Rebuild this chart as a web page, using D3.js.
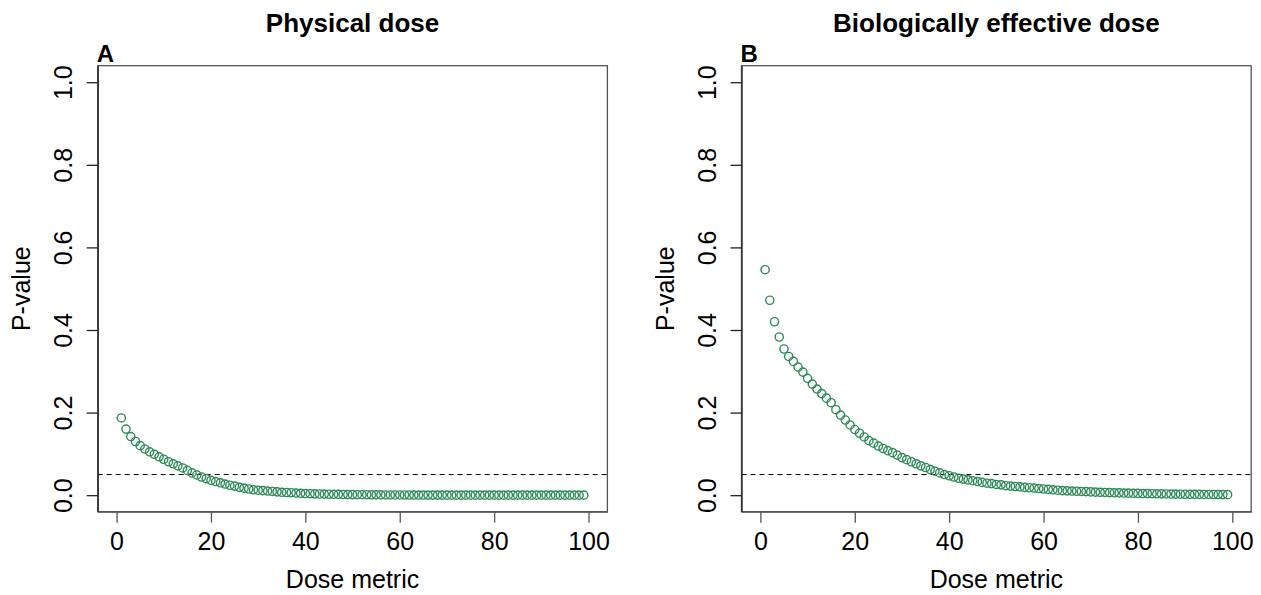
<!DOCTYPE html>
<html>
<head>
<meta charset="utf-8">
<script src="https://cdn.jsdelivr.net/npm/d3@7"></script>
<style>
  body { margin: 0; background: #fff; }
  svg { display: block; font-family: "Liberation Sans", Arial, sans-serif; }
  .tick-label { font-size: 25px; fill: #000; }
  .axis-title { font-size: 25px; fill: #000; }
  .panel-title { font-size: 26px; font-weight: bold; fill: #000; }
  .panel-tag { font-size: 24px; font-weight: bold; fill: #000; }
</style>
</head>
<body>
<div id="chart"></div>
<script>
// Dose metric values (x)
const doseMetric = [1, 2, 3, 4, 5, 6, 7, 8, 9, 10, 11, 12, 13, 14, 15, 16, 17, 18, 19, 20,
  21, 22, 23, 24, 25, 26, 27, 28, 29, 30, 31, 32, 33, 34, 35, 36, 37, 38, 39, 40,
  41, 42, 43, 44, 45, 46, 47, 48, 49, 50, 51, 52, 53, 54, 55, 56, 57, 58, 59, 60,
  61, 62, 63, 64, 65, 66, 67, 68, 69, 70, 71, 72, 73, 74, 75, 76, 77, 78, 79, 80,
  81, 82, 83, 84, 85, 86, 87, 88, 89, 90, 91, 92, 93, 94, 95, 96, 97, 98, 99];

// P-values, physical dose (panel A)
const pPhysical = [0.187, 0.160, 0.142, 0.130, 0.120, 0.112, 0.105, 0.099, 0.093, 0.087,
  0.081, 0.076, 0.071, 0.066, 0.060, 0.054, 0.049, 0.044, 0.040, 0.036,
  0.033, 0.030, 0.027, 0.024, 0.022, 0.019, 0.017, 0.015, 0.013, 0.012,
  0.011, 0.010, 0.009, 0.008, 0.007, 0.0065, 0.006, 0.0052, 0.0046, 0.004,
  0.0036, 0.0032, 0.0029, 0.0026, 0.0023, 0.0021, 0.0019, 0.0017, 0.0015, 0.0013,
  0.0012, 0.0011, 0.001, 0.0009, 0.0008, 0.0007, 0.0006, 0.0006, 0.0005, 0.0005,
  0.0004, 0.0004, 0.0003, 0.0003, 0.0003, 0.0002, 0.0002, 0.0002, 0.0002, 0.0001,
  0.0001, 0.0001, 0.0001, 0.0001, 0.0001, 0.0001, 0.0001, 0.0001, 0.0001, 0.0001,
  0.0001, 0.0001, 0.0001, 0.0001, 0.0001, 0.0001, 0.0001, 0.0001, 0.0001, 0.0001,
  0.0001, 0.0001, 0.0001, 0.0001, 0.0001, 0.0001, 0.0001, 0.0001, 0.0001];

// P-values, biologically effective dose (panel B)
const pBiological = [0.546, 0.472, 0.420, 0.383, 0.354, 0.336, 0.324, 0.310, 0.298, 0.283,
  0.269, 0.257, 0.246, 0.235, 0.224, 0.207, 0.194, 0.182, 0.170, 0.159,
  0.150, 0.141, 0.132, 0.126, 0.119, 0.113, 0.108, 0.103, 0.097, 0.091,
  0.086, 0.081, 0.076, 0.071, 0.067, 0.062, 0.058, 0.054, 0.050, 0.047,
  0.044, 0.041, 0.039, 0.037, 0.035, 0.033, 0.031, 0.029, 0.028, 0.026,
  0.025, 0.023, 0.022, 0.021, 0.020, 0.019, 0.018, 0.017, 0.016, 0.015,
  0.014, 0.013, 0.012, 0.011, 0.0105, 0.010, 0.0095, 0.009, 0.0085, 0.008,
  0.0075, 0.007, 0.0066, 0.0062, 0.0058, 0.0055, 0.0052, 0.0049, 0.0046, 0.0043,
  0.004, 0.0038, 0.0036, 0.0034, 0.0032, 0.003, 0.0028, 0.0026, 0.0024, 0.0022,
  0.0021, 0.002, 0.0019, 0.0018, 0.0017, 0.0016, 0.0015, 0.0014, 0.0013];

const xTicks = [0, 20, 40, 60, 80, 100];
const yTicks = [0.0, 0.2, 0.4, 0.6, 0.8, 1.0];
const threshold = 0.05;

const panels = [
  { tag: "A", title: "Physical dose", values: pPhysical, left: 97.7 },
  { tag: "B", title: "Biologically effective dose", values: pBiological, left: 741.5 }
];

const width = 1261, height = 595;
const plotW = 509.7;
const plotTop = 65.7, plotBottom = 511.7;

const svg = d3.select("#chart")
  .append("svg")
  .attr("width", width)
  .attr("height", height);

panels.forEach(p => {
  const x = d3.scaleLinear().domain([-4, 104]).range([p.left, p.left + plotW]);
  const y = d3.scaleLinear().domain([-0.04, 1.04]).range([plotBottom, plotTop]);
  const g = svg.append("g");

  // dashed significance line
  g.append("line")
    .attr("x1", p.left).attr("x2", p.left + plotW)
    .attr("y1", y(threshold)).attr("y2", y(threshold))
    .attr("stroke", "#000")
    .attr("stroke-width", 1)
    .attr("stroke-dasharray", "5,4");

  // points
  g.selectAll("circle")
    .data(doseMetric.map((d, i) => ({ dose: d, p: p.values[i] })))
    .enter()
    .append("circle")
    .attr("cx", d => x(d.dose))
    .attr("cy", d => y(d.p))
    .attr("r", 4.1)
    .attr("fill", "none")
    .attr("stroke", "#2E8B57")
    .attr("stroke-width", 1.4);

  // plot box
  g.append("rect")
    .attr("x", p.left).attr("y", plotTop)
    .attr("width", plotW).attr("height", plotBottom - plotTop)
    .attr("fill", "none")
    .attr("stroke", "#555")
    .attr("stroke-width", 1.3);

  // x axis
  const xAxis = g.append("g")
    .attr("transform", `translate(0, ${plotBottom})`)
    .call(d3.axisBottom(x).tickValues(xTicks).tickSize(11).tickSizeOuter(0).tickPadding(6).tickFormat(d3.format("d")));
  xAxis.select(".domain").attr("stroke", "#555").attr("stroke-width", 1.3);
  xAxis.selectAll(".tick line").attr("stroke", "#555").attr("stroke-width", 1.3);
  xAxis.selectAll(".tick text")
    .attr("class", "tick-label")
    .attr("font-size", null).attr("font-family", null)
    .attr("y", 38).attr("dy", null);

  // y axis
  const yAxis = g.append("g")
    .attr("transform", `translate(${p.left}, 0)`)
    .call(d3.axisLeft(y).tickValues(yTicks).tickSize(11).tickSizeOuter(0).tickFormat(d3.format(".1f")));
  yAxis.select(".domain").attr("stroke", "#222").attr("stroke-width", 1.3);
  yAxis.selectAll(".tick line").attr("stroke", "#222").attr("stroke-width", 1.3);
  yAxis.selectAll(".tick text")
    .attr("class", "tick-label")
    .attr("font-size", null).attr("font-family", null)
    .attr("x", null).attr("dy", null)
    .attr("text-anchor", "middle")
    .attr("transform", "translate(-26, 0) rotate(-90)");

  // axis titles
  g.append("text")
    .attr("class", "axis-title")
    .attr("x", p.left + plotW / 2)
    .attr("y", 588)
    .attr("text-anchor", "middle")
    .text("Dose metric");

  g.append("text")
    .attr("class", "axis-title")
    .attr("transform", `translate(${p.left - 68}, ${(plotTop + plotBottom) / 2}) rotate(-90)`)
    .attr("text-anchor", "middle")
    .text("P-value");

  // panel title and tag
  g.append("text")
    .attr("class", "panel-title")
    .attr("x", p.left + plotW / 2)
    .attr("y", 32)
    .attr("text-anchor", "middle")
    .text(p.title);

  g.append("text")
    .attr("class", "panel-tag")
    .attr("x", p.left - 1)
    .attr("y", 62)
    .text(p.tag);
});
</script>
</body>
</html>
